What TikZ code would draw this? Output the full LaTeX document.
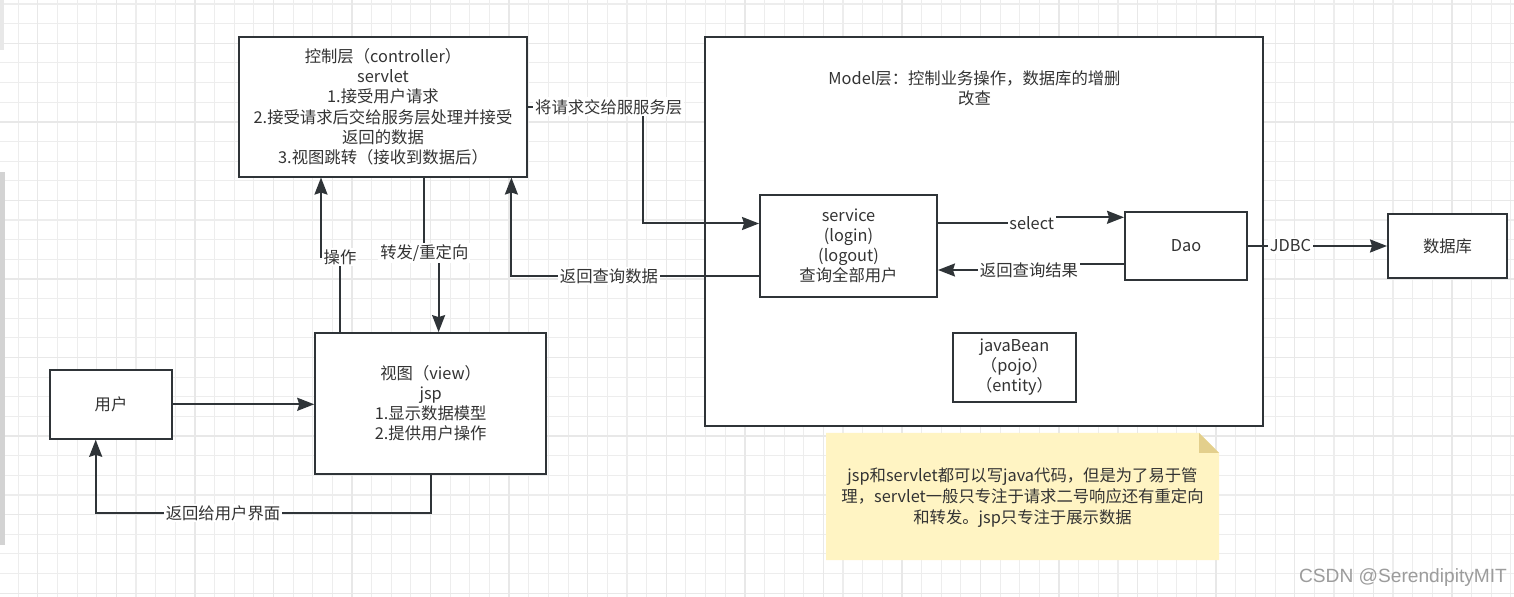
\documentclass[tikz,border=0pt]{standalone}
\usepackage{fontspec}
\setmainfont{Noto Sans CJK SC}
\newfontfamily\wmfont{Liberation Sans}
\usetikzlibrary{arrows.meta}
\definecolor{ink}{HTML}{2F3438}
\definecolor{txt}{HTML}{333333}
\definecolor{notefill}{HTML}{FFF4C3}
\definecolor{notefold}{HTML}{E3CF8C}
\definecolor{gridminor}{HTML}{EDEDED}
\definecolor{gridmajor}{HTML}{E8E8E8}
\definecolor{wmgray}{HTML}{9C9C9C}

\begin{document}
\begin{tikzpicture}[x=0.02cm, y=-0.02cm]
	\tikzstyle{every node} = [text=txt, font=\fontsize{9.3pt}{11.4pt}\selectfont, align=center]
	\tikzstyle{box} = [draw=ink, line width=0.04cm, fill=white, inner sep=0pt]
	\tikzstyle{lbl} = [fill=white, inner sep=1pt]
	\tikzstyle{arr} = [draw=ink, line width=0.04cm, -{Stealth[length=0.34cm, width=0.26cm, inset=0.04cm]}]
	\useasboundingbox (0,0) rectangle (1514,597);
	\fill[white] (0,0) rectangle (1514,597);
	% grid
	\foreach \k in {0,...,77} {\pgfmathsetmacro\gx{-1.5+19.64*\k} \draw[gridminor, line width=0.022cm] (\gx,0) -- (\gx,597);}
	\foreach \k in {0,...,30} {\pgfmathsetmacro\gy{4+19.64*\k} \draw[gridminor, line width=0.022cm] (0,\gy) -- (1514,\gy);}
	\foreach \k in {2,6,...,74} {\pgfmathsetmacro\gx{-1.5+19.64*\k} \draw[gridmajor, line width=0.028cm] (\gx,0) -- (\gx,597);}
	\foreach \k in {2,6,...,30} {\pgfmathsetmacro\gy{4+19.64*\k} \draw[gridmajor, line width=0.028cm] (0,\gy) -- (1514,\gy);}
	\fill[gridmajor] (0,0) rectangle (4,50); \fill[gridmajor!80!gray] (0,172) rectangle (5,545);

	% boxes
	\node[box, minimum width=5.76cm, minimum height=2.79cm] (ctrl) at (383,106.8) {控制层（controller）\\servlet\\1.接受用户请求\\2.接受请求后交给服务层处理并接受\\返回的数据\\3.视图跳转（接收到数据后）};
	\node[box, minimum width=4.62cm, minimum height=2.82cm] (view) at (430.7,403.6) {视图（view）\\jsp\\1.显示数据模型\\2.提供用户操作};
	\node[box, minimum width=2.44cm, minimum height=1.38cm] (user) at (111,404.3) {用户};
	\node[box, minimum width=11.16cm, minimum height=7.78cm] (model) at (984.2,231.6) {};
	\node (modeltxt) at (974.5,88.3) {Model层：控制业务操作，数据库的增删\\改查};
	\node[box, minimum width=3.54cm, minimum height=2.04cm] (svc) at (848.5,246) {service\\(login)\\(logout)\\查询全部用户};
	\node[box, minimum width=2.44cm, minimum height=1.36cm] (dao) at (1186,246) {Dao};
	\node[box, minimum width=2.38cm, minimum height=1.28cm] (db) at (1447.5,246) {数据库};
	\node[box, minimum width=2.46cm, minimum height=1.38cm] (bean) at (1014.5,367.5) {javaBean\\（pojo）\\（entity）};

	% note
	\fill[notefill] (826,433) -- (1199,433) -- (1219,453) -- (1219,560) -- (826,560) -- cycle;
	\fill[notefold] (1199,433) -- (1219,453) -- (1199,453) -- cycle;
	\node (note) at (1022.5,497.5) [font=\fontsize{9.3pt}{12pt}\selectfont] {jsp和servlet都可以写java代码，但是为了易于管\\理，servlet一般只专注于请求二号响应还有重定向\\和转发。jsp只专注于展示数据};

	% connectors
	\coordinate (b1) at (340,257); \coordinate (b2) at (321,257);
	\coordinate (b3) at (424.3,253); \coordinate (b4) at (438.6,253);
	\coordinate (b5) at (511.4,276);
	\coordinate (b6) at (643.3,106.8); \coordinate (b7) at (643.3,223.5);
	\coordinate (b8) at (1031.7,223.3); \coordinate (b9) at (1031.7,217.3);
	\coordinate (b10) at (1029,264); \coordinate (b11) at (1029,270);
	\coordinate (c1) at (95.7,513);

	\draw[arr] (user.east) -- (user.east -| view.west);
	\draw[arr] (view.south) |- node[lbl, pos=0.81]{返回给用户界面} (c1) -- (c1 |- user.south);
	\draw[arr] (b1 |- view.north) -- (b1) node[lbl]{操作} -- (b2) -- (b2 |- ctrl.south);
	\draw[arr] (b3 |- ctrl.south) -- (b3) node[lbl]{转发/重定向} -- (b4) -- (b4 |- view.north);
	\draw[arr] (svc.west |- b5) -- node[lbl, pos=0.606]{返回查询数据} (b5) -- (b5 |- ctrl.south);
	\draw[arr] (ctrl.east) -- node[lbl, pos=0.70]{将请求交给服服务层} (b6) -- (b7) -- (b7 -| svc.west);
	\draw[arr] (svc.east |- b8) -- (b8) node[lbl]{select} -- (b9) -- (b9 -| dao.west);
	\draw[arr] (dao.west |- b10) -- (b10) -- (b11) node[lbl]{返回查询结果} -- (b11 -| svc.east);
	\draw[arr] (dao.east) -- node[lbl, pos=0.305]{JDBC} (dao.east -| db.west);

	\node[text=wmgray, font=\wmfont\fontsize{10.9pt}{13pt}\selectfont] (wm) at (1403,578) {CSDN @SerendipityMIT};
\end{tikzpicture}
\end{document}
